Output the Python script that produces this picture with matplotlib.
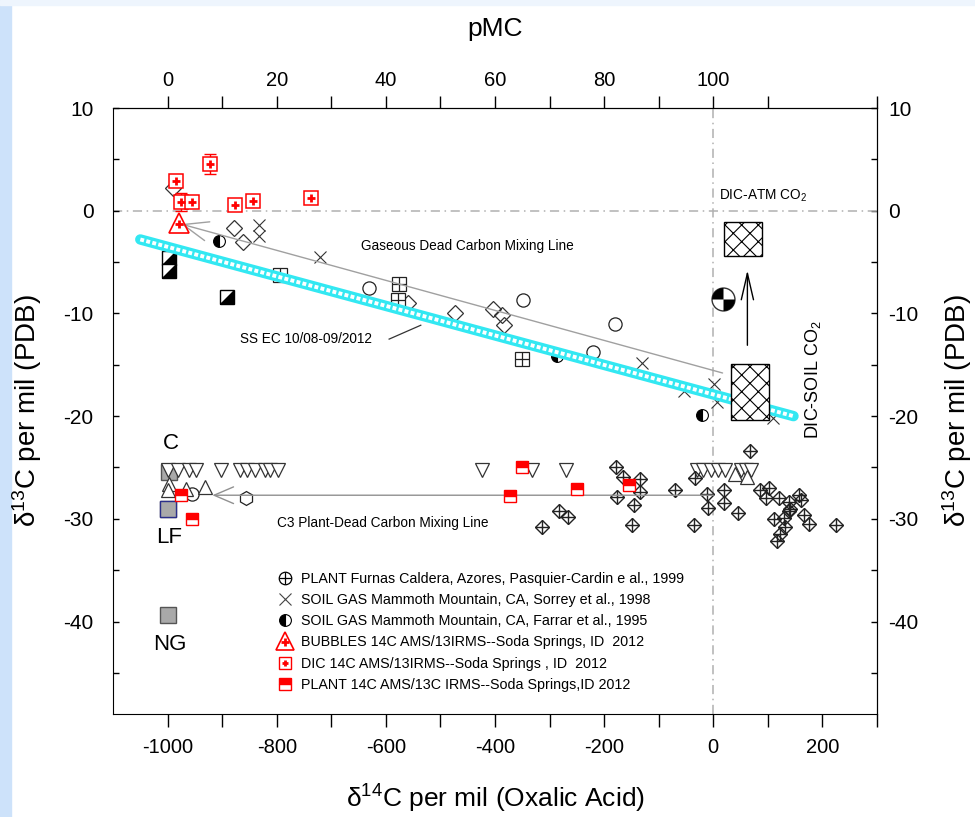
import numpy as np
import matplotlib.pyplot as plt
from matplotlib.lines import Line2D
from matplotlib.markers import MarkerStyle
from matplotlib.path import Path
from matplotlib.patches import Rectangle
from matplotlib.transforms import Affine2D
from matplotlib.legend_handler import HandlerTuple

plt.rcParams['font.family'] = ['Liberation Sans', 'DejaVu Sans']
plt.rcParams['mathtext.fontset'] = 'custom'
plt.rcParams['mathtext.rm'] = 'Liberation Sans'
plt.rcParams['mathtext.it'] = 'Liberation Sans:italic'
plt.rcParams['axes.unicode_minus'] = False
plt.rcParams['hatch.linewidth'] = 0.8

# ---- data (delta14C per mil, delta13C per mil) ----
furnas_x = [-314, -283, -266, -178, -166, -135, -135, -177, -146, -149, -70, -36, -33, -12, -9,
            19, 19, 67, 45, 86, 102, 97, 120, 138, 141, 157, 160, 167, 175, 111, 129, 132,
            123, 116, 224, 138]
furnas_y = [-30.8, -29.2, -29.8, -25.0, -25.9, -26.1, -27.4, -27.9, -28.7, -30.6, -27.2, -30.6, -26.0,
            -27.6, -28.9, -27.2, -28.5, -23.4, -29.4, -27.2, -27.0, -28.0, -28.0, -28.4, -29.0,
            -27.7, -28.2, -29.6, -30.5, -30.0, -29.9, -30.8, -31.5, -32.2, -30.6, -29.2]

sorrey_x = [-832, -832, -720, -130, -54, 2, 7, 110]
sorrey_y = [-1.4, -2.5, -4.55, -14.8, -17.6, -16.9, -18.6, -20.2]

farrar_x = [-906, -287, -21]
farrar_y = [-2.96, -14.1, -19.9]

bubbles_x = [-979]
bubbles_y = [-1.24]

dic_x = [-922, -984, -975, -955, -877, -843, -738]
dic_y = [4.54, 2.9, 0.87, 0.87, 0.55, 0.93, 1.2]
dic_err = [1.0, 0, 0.85, 0, 0, 0, 0]

plant_ss_x = [-975, -955, -372, -351, -250, -155]
plant_ss_y = [-27.7, -30.0, -27.8, -24.95, -27.1, -26.7]

diamond_x = [-990, -878, -862, -559, -473, -403, -388, -383]
diamond_y = [2.17, -1.67, -3.03, -8.98, -9.95, -9.53, -10.2, -11.15]

circle_x = [-631, -349, -181, -220, -955]
circle_y = [-7.57, -8.65, -11.05, -13.75, -27.6]

sqplus_x = [-794, -575, -578, -350]
sqplus_y = [-6.3, -7.18, -8.65, -14.4]

halfsq_x = [-892, -998, -998]
halfsq_y = [-8.4, -4.6, -5.9]

quart_x = [18]
quart_y = [-8.55]

hex_x = [-857]
hex_y = [-28.0]

tri_down_x = [-999, -981, -960, -947, -903, -868, -854, -840, -822, -813, -798,
              -424, -333, -270, -30, -18, -5, 8, 22, 50, 60, 70]
tri_down_y = [-25.2] * len(tri_down_x)

tri_up_x = [-997, -999, -966, -932, 40, 62]
tri_up_y = [-26.6, -27.2, -27.1, -26.9, -25.6, -25.9]

end_names = ['C', 'LF', 'NG']
end_x = [-997, -999, -999]
end_y = [-25.4, -29.0, -39.4]

gas_line_x = [-975, 17]
gas_line_y = [-1.3, -15.8]
c3_line_x = [-918, 0]
c3_line_y = [-27.7, -27.7]
ssec_x = [-1050, 147]
ssec_y = [-2.8, -20.0]

atm_box = [19.6, -4.45, 88.6, -1.13]    # x0, y0, x1, y1
soil_box = [31.7, -20.4, 102.0, -14.9]
arrow_x = [62.5, 62.5]
arrow_y = [-13.1, -5.8]

# ---- figure ----
fig = plt.figure(figsize=(9.75, 8.17), dpi=100)
fig.patches.append(Rectangle((0, 0), 11 / 975, 1, transform=fig.transFigure,
                             color='#cde2fa', zorder=-10))
fig.patches.append(Rectangle((0, 1 - 5 / 817), 1, 5 / 817, transform=fig.transFigure,
                             color='#eef5fd', zorder=-10))
ax = fig.add_axes([113 / 975, 1 - 714 / 817, (877 - 113) / 975, (714 - 108) / 817])
ax.set_xlim(-1100, 300)
ax.set_ylim(-49, 10)

ref = dict(color='#b0b0b0', lw=1.1, dashes=[6, 3, 1, 3], zorder=1)
ax.axhline(0, **ref)
ax.axvline(0, **ref)

k = '#222222'
mk = dict(ls='none', zorder=3)

# other open symbols
ax.plot(diamond_x, diamond_y, marker='D', ms=8.5, mfc='none', mec='#333333', mew=0.9, **mk)
ax.plot(circle_x, circle_y, marker='o', ms=9.5, mfc='none', mec=k, mew=0.9, **mk)
ax.plot(hex_x, hex_y, marker='h', ms=10, mfc='none', mec=k, mew=0.9, **mk)
ax.plot(sqplus_x, sqplus_y, marker='s', ms=9.5, mfc='white', mec=k, mew=0.9, **mk)
ax.plot(sqplus_x, sqplus_y, marker='+', ms=9.5, mec=k, mew=0.9, **mk)
diag = MarkerStyle('D', fillstyle='right', transform=Affine2D().rotate_deg(-45))
ax.plot(halfsq_x, halfsq_y, marker=diag, ms=10, mfc='black', mfcalt='white', mec='black', mew=1, **mk)
ax.plot(tri_down_x, tri_down_y, marker='v', ms=9.5, mfc='white', mec='#333333', mew=0.9, **mk)
ax.plot(tri_up_x, tri_up_y, marker='^', ms=9.5, mfc='white', mec='#333333', mew=0.9, **mk)

# quartered circle
quad = Path.make_compound_path(Path.wedge(90, 180), Path.wedge(270, 360))
ax.plot(quart_x, quart_y, marker='o', ms=16.5, mfc='white', mec='#333333', mew=1, ls='none', zorder=5)
ax.plot(quart_x, quart_y, marker=quad, ms=16.5, mfc='black', mec='none', ls='none', zorder=5)

# published data
ax.plot(furnas_x, furnas_y, marker='D', ms=7.3, mfc='none', mec=k, mew=1, **mk)
ax.plot(furnas_x, furnas_y, marker='+', ms=10.3, mec=k, mew=1, **mk)
ax.plot(sorrey_x, sorrey_y, marker='x', ms=8.5, mec='#333333', mew=0.8, **mk)
ax.plot(farrar_x, farrar_y, marker='o', fillstyle='left', ms=8.5, mfc='black', mfcalt='white',
        mec='black', mew=0.8, **mk)

# end members
ax.plot(end_x, end_y, marker='s', ms=11, mfc='#a9a9a9', mec='#555555', mew=1, ls='none', zorder=2)
ax.plot(end_x[1], end_y[1], marker='s', ms=11, mfc='#a9a9a9', mec='#2b2f8a', mew=1, ls='none', zorder=4)
for name, x, y, dy in zip(end_names, end_x, end_y, [20, -21, -21]):
    ax.annotate(name, (x, y), xytext=(1, dy), textcoords='offset points', ha='center',
                va='center', fontsize=16)

# SS EC mixing series (cyan chain of open circles)
ax.plot(ssec_x, ssec_y, color='#33e8f2', lw=7.5, solid_capstyle='round', zorder=6)
ax.plot(ssec_x, ssec_y, color='white', lw=2.8, dashes=[1.0, 0.6], zorder=7)

# mixing lines
ax.annotate('', xy=(gas_line_x[0], gas_line_y[0]), xytext=(gas_line_x[1], gas_line_y[1]),
            arrowprops=dict(arrowstyle='->,head_length=0.9,head_width=0.35', color='#a0a0a0',
                            lw=1, shrinkA=0, shrinkB=0, mutation_scale=20), zorder=4)
ax.annotate('', xy=(c3_line_x[0], c3_line_y[0]), xytext=(c3_line_x[1], c3_line_y[1]),
            arrowprops=dict(arrowstyle='->,head_length=0.7,head_width=0.3', color='#909090',
                            lw=1, shrinkA=0, shrinkB=0, mutation_scale=20), zorder=4)

# Soda Springs data
ax.plot(plant_ss_x, plant_ss_y, marker='s', fillstyle='top', ms=9, mfc='red', mfcalt='white',
        mec='red', mew=1, ls='none', zorder=8)
err = np.array(dic_err)
sel = err > 0
ax.errorbar(np.array(dic_x)[sel], np.array(dic_y)[sel], yerr=err[sel], fmt='none', ecolor='red',
            elinewidth=1, capsize=4.5, zorder=8)
ax.plot(dic_x, dic_y, marker='s', ms=10, mfc='white', mec='red', mew=1.1, ls='none', zorder=8)
ax.plot(dic_x, dic_y, marker='+', ms=6, mec='red', mew=2, ls='none', zorder=9)
plus_low = MarkerStyle('+', transform=Affine2D().translate(0, -0.15))
ax.plot(bubbles_x, bubbles_y, marker='^', ms=14, mfc='none', mec='red', mew=1.2, ls='none', zorder=8)
ax.plot(bubbles_x, bubbles_y, marker=plus_low, ms=6, mec='red', mew=2, ls='none', zorder=9)

# DIC boxes and arrow
for x0, y0, x1, y1 in [atm_box, soil_box]:
    ax.add_patch(Rectangle((x0, y0), x1 - x0, y1 - y0, facecolor='white', edgecolor='black',
                           hatch='xx', lw=1, zorder=9))
ax.annotate('', xy=(arrow_x[1], arrow_y[1]), xytext=(arrow_x[0], arrow_y[0]),
            arrowprops=dict(arrowstyle='->,head_length=0.95,head_width=0.22', color='black',
                            lw=1, shrinkA=0, shrinkB=0, mutation_scale=20), zorder=9)

# annotations
ax.text(-646, -3.45, 'Gaseous Dead Carbon Mixing Line', fontsize=9.8, va='center')
ax.text(-626, -12.5, 'SS EC 10/08-09/2012', fontsize=9.8, va='center', ha='right')
ax.plot([-594, -536], [-12.5, -11.15], color='#333333', lw=0.9, zorder=4)
ax.text(-800, -30.4, 'C3 Plant-Dead Carbon Mixing Line', fontsize=9.8, va='center')
ax.text(10, 1.5, 'DIC-ATM CO$_2$', fontsize=9.8, va='center')
ax.text(183, -16.5, 'DIC-SOIL CO$_2$', fontsize=13, va='center', ha='center', rotation=90)

# axes styling
ax.set_xticks(np.arange(-1000, 201, 200))
ax.set_xticks(np.arange(-900, 301, 200), minor=True)
ax.tick_params(axis='x', which='both', direction='out', length=9, width=1, labelsize=14.5, pad=8)
ax.set_yticks(np.arange(-40, 11, 10))
ax.set_yticks(np.arange(-45, 11, 5), minor=True)
ax.tick_params(axis='y', which='both', direction='in', length=4, width=1, labelsize=15, pad=14)
ax.set_xlabel('δ$^{14}$C per mil (Oxalic Acid)', fontsize=19, labelpad=19)
ax.set_ylabel('δ$^{13}$C per mil (PDB)', fontsize=20, labelpad=14)

top = ax.secondary_xaxis('top', functions=(lambda d: d / 10 + 100, lambda p: (p - 100) * 10))
top.set_xticks(np.arange(0, 101, 20))
top.set_xticks(np.arange(10, 131, 20), minor=True)
top.tick_params(axis='x', which='both', direction='out', length=9, width=1, labelsize=14.5, pad=4)
top.set_xlabel('pMC', fontsize=19, labelpad=25)

right = ax.secondary_yaxis('right', functions=(lambda y: y, lambda y: y))
right.set_yticks(np.arange(-40, 11, 10))
right.set_yticks(np.arange(-45, 11, 5), minor=True)
right.tick_params(axis='y', which='both', direction='in', length=4, width=1, labelsize=15, pad=8)
right.set_ylabel('δ$^{13}$C per mil (PDB)', fontsize=20, labelpad=16)

# legend
h_furnas = (Line2D([], [], ls='none', marker='o', ms=9, mfc='none', mec='k', mew=0.9),
            Line2D([], [], ls='none', marker='+', ms=9, mec='k', mew=0.9))
h_sorrey = Line2D([], [], ls='none', marker='x', ms=8.5, mec='#444444', mew=0.8)
h_farrar = Line2D([], [], ls='none', marker='o', fillstyle='left', ms=8.5, mfc='black',
                  mfcalt='white', mec='black', mew=0.8)
h_bubbles = (Line2D([], [], ls='none', marker='^', ms=13, mfc='none', mec='red', mew=1.2),
             Line2D([], [], ls='none', marker=plus_low, ms=6, mec='red', mew=2))
h_dic = (Line2D([], [], ls='none', marker='s', ms=9, mfc='white', mec='red', mew=1),
         Line2D([], [], ls='none', marker='+', ms=5, mec='red', mew=2))
h_plant = Line2D([], [], ls='none', marker='s', fillstyle='top', ms=9, mfc='red', mfcalt='white',
                 mec='red', mew=1)
labels = ['PLANT Furnas Caldera, Azores, Pasquier-Cardin e al., 1999',
          'SOIL GAS Mammoth Mountain, CA, Sorrey et al., 1998',
          'SOIL GAS Mammoth Mountain, CA, Farrar et al., 1995',
          'BUBBLES 14C AMS/13IRMS--Soda Springs, ID  2012',
          'DIC 14C AMS/13IRMS--Soda Springs , ID  2012',
          'PLANT 14C AMS/13C IRMS--Soda Springs,ID 2012']
fig.legend([h_furnas, h_sorrey, h_farrar, h_bubbles, h_dic, h_plant], labels,
           handler_map={tuple: HandlerTuple(ndivide=1)}, loc='upper left',
           bbox_to_anchor=(276 / 975, 1 - 572 / 817), frameon=False, borderpad=0,
           borderaxespad=0, handlelength=1.2, handletextpad=0.55, labelspacing=0.5,
           prop={'size': 10.3})

fig.savefig('out.png', dpi=100)
